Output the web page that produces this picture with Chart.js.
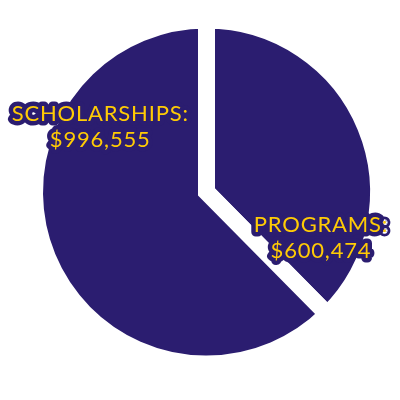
<!DOCTYPE html>
<html>
<head>
<meta charset="utf-8">
<script src="https://cdn.jsdelivr.net/npm/chart.js@4/dist/chart.umd.min.js"></script>
<style>
  html, body { margin: 0; padding: 0; background: #ffffff; }
  #wrap { width: 400px; height: 400px; }
</style>
</head>
<body>
<div id="wrap"><canvas id="fundsChart" width="400" height="400"></canvas></div>
<script>
// Data
const categories = ['PROGRAMS:', 'SCHOLARSHIPS:'];
const amounts = [600474, 996555];

const PURPLE = '#2b1d70';
const GOLD = '#ffcb05';

// where each two-line label sits, as a fraction of the pie radius from the centre
const labelSpots = [
    { x: 0.70, y: 0.28 },
    { x: -0.65, y: -0.40 }
];

function money(v) {
    return '$' + v.toLocaleString('en-US');
}

const sliceLabels = {
    id: 'sliceLabels',
    afterDatasetsDraw(chart) {
        const ctx = chart.ctx;
        const arcs = chart.getDatasetMeta(0).data;
        ctx.save();
        ctx.font = '400 22px Lato, "Noto Sans", sans-serif';
        ctx.letterSpacing = '0.8px';
        ctx.textAlign = 'center';
        ctx.textBaseline = 'middle';
        ctx.lineJoin = 'round';
        ctx.lineWidth = 9;
        ctx.strokeStyle = PURPLE;
        ctx.fillStyle = GOLD;
        arcs.forEach((arc, i) => {
            const r = arc.outerRadius - 8.5;
            const cx = arc.x + labelSpots[i].x * r;
            const cy = arc.y + labelSpots[i].y * r;
            const lines = [categories[i], money(amounts[i])];
            // outline first so the second line's halo doesn't cover the first line
            lines.forEach((txt, j) => {
                ctx.strokeText(txt, cx, cy + (j - 0.5) * 26);
            });
            lines.forEach((txt, j) => {
                ctx.fillText(txt, cx, cy + (j - 0.5) * 26);
            });
        });
        ctx.restore();
    }
};

new Chart(document.getElementById('fundsChart'), {
    type: 'pie',
    data: {
        labels: categories,
        datasets: [{
            data: amounts,
            backgroundColor: PURPLE,
            borderColor: '#ffffff',
            borderWidth: 17,
            borderJoinStyle: 'miter',
            hoverOffset: 0
        }]
    },
    options: {
        responsive: false,
        animation: false,
        radius: 172,
        layout: { padding: { left: 13, right: 0, top: 0, bottom: 16 } },
        plugins: {
            legend: { display: false },
            tooltip: { enabled: false }
        }
    },
    plugins: [sliceLabels]
});
</script>
</body>
</html>
